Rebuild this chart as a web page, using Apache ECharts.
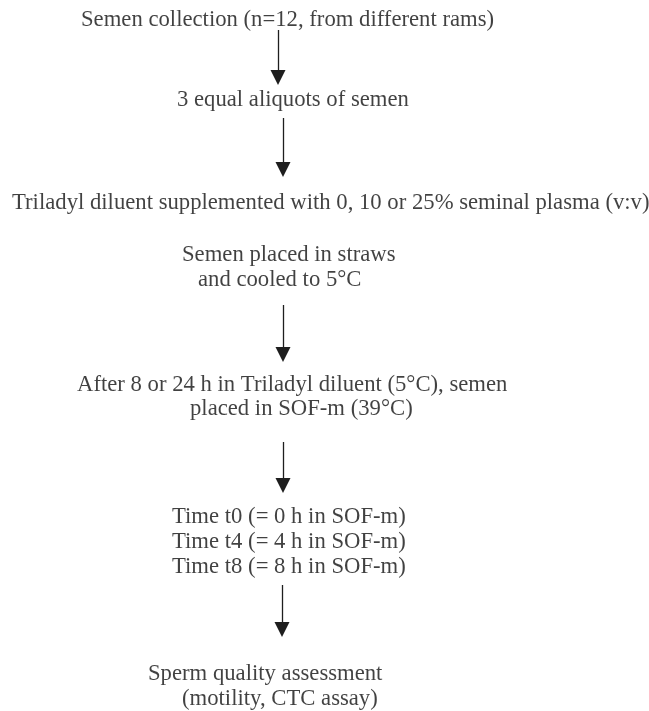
<!DOCTYPE html>
<html>
<head>
<meta charset="utf-8">
<script src="https://cdn.jsdelivr.net/npm/echarts@6/dist/echarts.min.js"></script>
<style>
html,body{margin:0;padding:0;background:#fff;}
#chart{width:649px;height:711px;}
</style>
</head>
<body>
<div id="chart"></div>
<script>
// Flowchart step texts (one entry per printed line)
const stepLines = [
  "Semen collection (n=12, from different rams)",
  "3 equal aliquots of semen",
  "Triladyl diluent supplemented with 0, 10 or 25% seminal plasma (v:v)",
  "Semen placed in straws",
  "and cooled to 5\u00B0C",
  "After 8 or 24 h in Triladyl diluent (5\u00B0C), semen",
  "placed in SOF-m (39\u00B0C)",
  "Time t0 (= 0 h in SOF-m)",
  "Time t4 (= 4 h in SOF-m)",
  "Time t8 (= 8 h in SOF-m)",
  "Sperm quality assessment",
  "(motility, CTC assay)"
];

// Layout: left edge and baseline of every text line (page pixels)
const lineLeft     = [81, 177, 12, 182, 198, 77, 190, 172, 172, 172, 148, 182];
const lineBaseline = [27, 107, 210, 262, 287, 392, 416, 524, 549, 574, 681, 706];

// Layout: arrows (x, start y, tip y)
const arrowX     = [278, 283, 283, 283, 282];
const arrowStart = [30, 118, 305, 442, 585];
const arrowTip   = [85, 177, 362, 493, 637];

const FONT = 22.7;
const HEAD_W = 14, HEAD_H = 15;

const textData = stepLines.map((t, i) => ({
  value: [lineLeft[i], lineBaseline[i] - 0.3 * FONT],
  name: t
}));

const arrowData = arrowX.map((x, i) => ({
  coords: [[x, arrowStart[i]], [x, arrowTip[i] - HEAD_H / 2]]
}));

const chart = echarts.init(document.getElementById('chart'), null, {renderer: 'canvas'});
chart.setOption({
  backgroundColor: '#ffffff',
  animation: false,
  grid: {left: 0, right: 0, top: 0, bottom: 0},
  xAxis: {type: 'value', min: 0, max: 649, show: false},
  yAxis: {type: 'value', min: 0, max: 711, inverse: true, show: false},
  series: [
    {
      type: 'lines',
      coordinateSystem: 'cartesian2d',
      symbol: ['none', 'triangle'],
      symbolSize: [HEAD_W, HEAD_H],
      lineStyle: {color: '#1e1e1e', width: 1.3, opacity: 1},
      data: arrowData,
      silent: true
    },
    {
      type: 'scatter',
      symbolSize: 0,
      data: textData,
      silent: true,
      label: {
        show: true,
        position: [0, 0],
        align: 'left',
        verticalAlign: 'middle',
        formatter: p => p.name,
        fontFamily: '"Liberation Serif", "Times New Roman", serif',
        fontSize: FONT,
        lineHeight: FONT,
        color: '#111111'
      }
    }
  ]
});
</script>
</body>
</html>
